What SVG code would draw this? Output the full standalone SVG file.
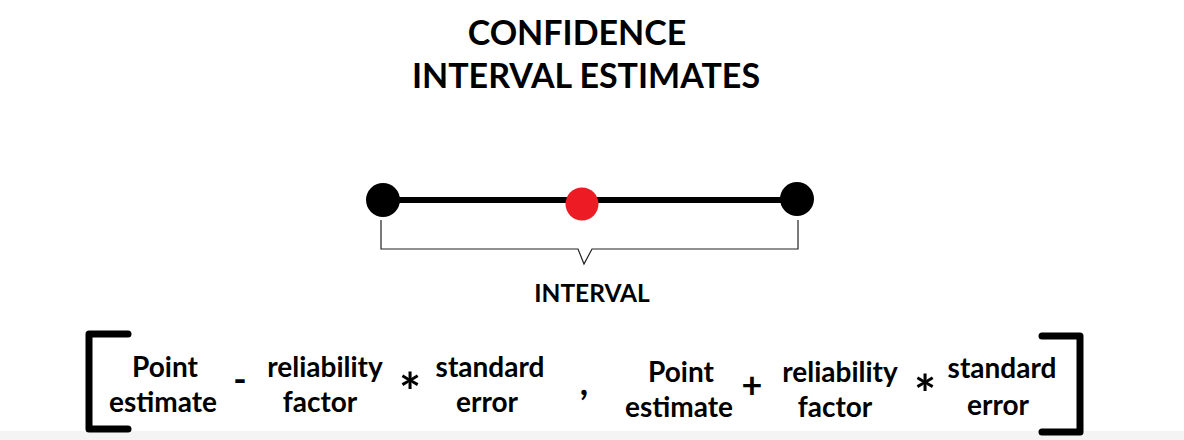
<svg xmlns="http://www.w3.org/2000/svg" width="1184" height="440" viewBox="0 0 1184 440">
<style>
.t{font-family:Lato,"Open Sans",sans-serif;font-weight:bold;fill:#000;text-anchor:middle}
.title{font-size:34px}
.lbl{font-size:28px}
.il{font-size:24.5px}
.op{font-size:36px}
.ast{font-size:52px}
.br{fill:none;stroke:#000;stroke-width:7;stroke-linecap:round;stroke-linejoin:round}
</style>
<rect width="1184" height="440" fill="#fff"/>
<rect x="0" y="431" width="1184" height="9" fill="#f4f4f4"/>
<g id="title">
<text class="t title" x="577" y="45">CONFIDENCE</text>
<text class="t title" x="586" y="88">INTERVAL ESTIMATES</text>
</g>
<g id="connectors">
<line x1="383" y1="200" x2="797" y2="200" stroke="#000" stroke-width="6"/>
<path d="M381,220 V249 H578 L584,264 L592,249 H798 V220" fill="none" stroke="#222" stroke-width="1.2"/>
</g>
<g id="left-end"><circle cx="383" cy="200" r="17" fill="#000"/></g>
<g id="point"><circle cx="582" cy="204" r="16.5" fill="#ed1c24"/></g>
<g id="right-end"><circle cx="797" cy="199" r="17" fill="#000"/></g>
<g id="interval-label"><text class="t il" x="592" y="302">INTERVAL</text></g>
<g id="formula">
<path class="br" d="M128,334 H89 V429 H128"/>
<path class="br" d="M1042,336 H1080 V432 H1042"/>
<text class="t lbl" x="165" y="377">Point</text>
<text class="t lbl" x="163" y="412">estimate</text>
<text class="t op" x="240" y="392">-</text>
<text class="t lbl" x="325" y="377">reliability</text>
<text class="t lbl" x="320" y="412">factor</text>
<text class="t ast" x="410" y="411">*</text>
<text class="t lbl" x="490" y="377">standard</text>
<text class="t lbl" x="487" y="412">error</text>
<text class="t op" x="584" y="395">,</text>
<text class="t lbl" x="681" y="382">Point</text>
<text class="t lbl" x="679" y="417">estimate</text>
<text class="t op" x="752" y="398">+</text>
<text class="t lbl" x="840" y="382">reliability</text>
<text class="t lbl" x="835" y="417">factor</text>
<text class="t ast" x="925" y="413">*</text>
<text class="t lbl" x="1002" y="378">standard</text>
<text class="t lbl" x="998" y="415">error</text>
</g>
</svg>
